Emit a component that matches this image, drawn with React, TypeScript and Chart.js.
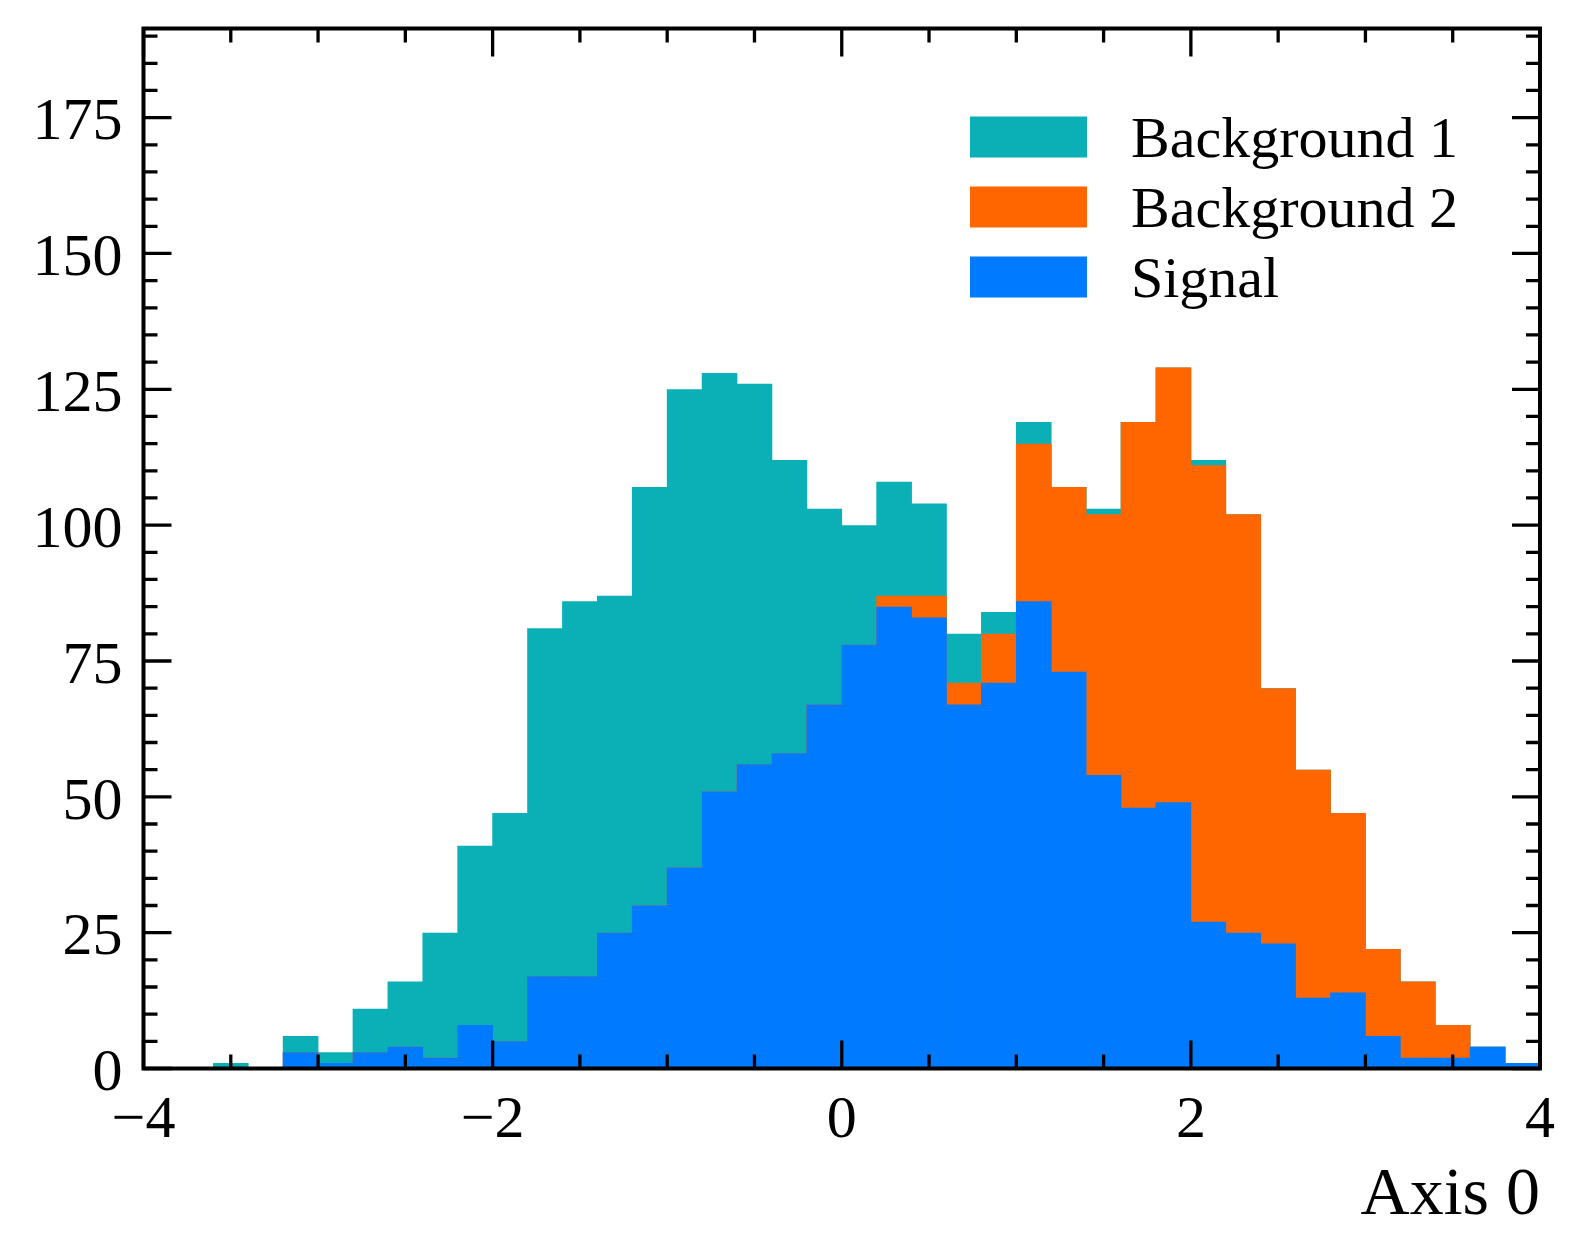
import { useEffect, useRef } from 'react'
import { Chart, registerables } from 'chart.js'

Chart.register(...registerables)

// histogram bins: 40 bins of width 0.2 between -4 and 4
const binCenters = [
  -3.9, -3.7, -3.5, -3.3, -3.1, -2.9, -2.7, -2.5, -2.3, -2.1,
  -1.9, -1.7, -1.5, -1.3, -1.1, -0.9, -0.7, -0.5, -0.3, -0.1,
  0.1, 0.3, 0.5, 0.7, 0.9, 1.1, 1.3, 1.5, 1.7, 1.9,
  2.1, 2.3, 2.5, 2.7, 2.9, 3.1, 3.3, 3.5, 3.7, 3.9,
]

const signal = [
  0, 0, 0, 0, 3, 1, 3, 4, 2, 8,
  5, 17, 17, 25, 30, 37, 51, 56, 58, 67,
  78, 85, 83, 67, 71, 86, 73, 54, 48, 49,
  27, 25, 23, 13, 14, 6, 2, 2, 4, 1,
]

const background2 = [
  0, 0, 0, 0, 0, 0, 0, 0, 0, 0,
  0, 0, 0, 0, 0, 0, 0, 0, 0, 0,
  0, 2, 4, 4, 9, 29, 34, 48, 71, 80,
  84, 77, 47, 42, 33, 16, 14, 6, 0, 0,
]

const background1 = [
  0, 0, 1, 0, 3, 2, 8, 12, 23, 33,
  42, 64, 69, 62, 77, 88, 77, 70, 54, 36,
  22, 21, 17, 9, 4, 4, 0, 1, 0, 0,
  1, 0, 0, 0, 0, 0, 0, 0, 0, 0,
]

const seriesLabels = ['Signal', 'Background 2', 'Background 1']
const seriesColors = ['#007bff', '#ff6600', '#0bafb6']

const xMajorTicks = [-4, -2, 0, 2, 4]
const xTickLabels = ['\u22124', '\u22122', '0', '2', '4']
const yMajorTicks = [0, 25, 50, 75, 100, 125, 150, 175]
const yTickLabels = ['0', '25', '50', '75', '100', '125', '150', '175']
const xTitle = 'Axis 0'

const FONT = "'Liberation Serif', 'DejaVu Serif', serif"
const W = 1584
const H = 1257

// inward ticks on all four sides, the frame, legend and axis title
const framePlugin = {
  id: 'frame',
  afterDraw(chart: Chart) {
    const { ctx, chartArea } = chart
    const { left, right, top, bottom } = chartArea
    const x = chart.scales.x
    const y = chart.scales.y
    ctx.save()
    ctx.strokeStyle = '#000'
    ctx.lineCap = 'butt'
    ctx.lineWidth = 3.3

    for (let v = x.min; v <= x.max + 1e-9; v += 0.5) {
      const px = x.getPixelForValue(v)
      const len = xMajorTicks.some((m) => Math.abs(m - v) < 1e-9) ? 28 : 14
      ctx.beginPath()
      ctx.moveTo(px, bottom)
      ctx.lineTo(px, bottom - len)
      ctx.moveTo(px, top)
      ctx.lineTo(px, top + len)
      ctx.stroke()
    }
    for (let v = 0; v <= y.max + 1e-9; v += 5) {
      const py = y.getPixelForValue(v)
      const len = yMajorTicks.includes(Math.round(v)) ? 28 : 14
      ctx.beginPath()
      ctx.moveTo(left, py)
      ctx.lineTo(left + len, py)
      ctx.moveTo(right, py)
      ctx.lineTo(right - len, py)
      ctx.stroke()
    }

    ctx.lineWidth = 4
    ctx.strokeRect(left, top, right - left, bottom - top)

    // legend, top entry is the last dataset
    const boxLeft = right - 570
    const rowTop = top + 88
    ctx.font = `58px ${FONT}`
    ctx.textAlign = 'left'
    ctx.textBaseline = 'alphabetic'
    const ds = chart.data.datasets
    for (let i = 0; i < ds.length; i++) {
      const d = ds[ds.length - 1 - i]
      const yy = rowTop + i * 70
      ctx.fillStyle = d.backgroundColor as string
      ctx.fillRect(boxLeft, yy, 117, 41)
      ctx.fillStyle = '#000'
      ctx.fillText(d.label ?? '', boxLeft + 161, yy + 40)
    }

    ctx.font = `68px ${FONT}`
    ctx.textAlign = 'right'
    ctx.fillText(xTitle, right, bottom + 145)
    ctx.restore()
  },
}

export default function App() {
  const canvasRef = useRef<HTMLCanvasElement>(null)
  const chartRef = useRef<Chart | null>(null)

  useEffect(() => {
    if (!canvasRef.current) return
    chartRef.current?.destroy()

    // cumulative heights, drawn from zero and overlapping (signal on top)
    const stack1 = signal.map((v) => v)
    const stack2 = signal.map((v, i) => v + background2[i])
    const stack3 = signal.map((v, i) => v + background2[i] + background1[i])
    const stacks = [stack1, stack2, stack3]

    chartRef.current = new Chart(canvasRef.current, {
      type: 'bar',
      data: {
        datasets: stacks.map((s, k) => ({
          label: seriesLabels[k],
          data: binCenters.map((c, i) => ({ x: c, y: s[i] })),
          backgroundColor: seriesColors[k],
          borderWidth: 0,
          grouped: false,
          categoryPercentage: 1,
          barPercentage: 1.02,
        })),
      },
      options: {
        responsive: false,
        animation: false,
        events: [],
        layout: { padding: { left: 0, top: 28.5, right: 44, bottom: 0 } },
        plugins: {
          legend: { display: false },
          tooltip: { enabled: false },
        },
        scales: {
          x: {
            type: 'linear',
            min: -4,
            max: 4,
            offset: false,
            grid: { display: false, drawTicks: false },
            border: { display: false },
            afterBuildTicks: (scale) => {
              scale.ticks = xMajorTicks.map((v) => ({ value: v }))
            },
            afterFit: (scale) => {
              scale.height = H - 1068.5
              scale.paddingLeft = 0
              scale.paddingRight = 0
            },
            ticks: {
              autoSkip: false,
              maxRotation: 0,
              minRotation: 0,
              padding: 17,
              color: '#000',
              font: { family: FONT, size: 60 },
              callback: (_v, i) => xTickLabels[i],
            },
          },
          y: {
            type: 'linear',
            min: 0,
            max: 191.4,
            grid: { display: false, drawTicks: false },
            border: { display: false },
            afterBuildTicks: (scale) => {
              scale.ticks = yMajorTicks.map((v) => ({ value: v }))
            },
            afterFit: (scale) => {
              scale.width = 143.5
              scale.paddingTop = 0
              scale.paddingBottom = 0
            },
            ticks: {
              autoSkip: false,
              padding: 21,
              labelOffset: 6,
              color: '#000',
              font: { family: FONT, size: 60 },
              callback: (_v, i) => yTickLabels[i],
            },
          },
        },
      },
      plugins: [framePlugin],
    })

    return () => {
      chartRef.current?.destroy()
    }
  }, [])

  return (
    <div style={{ position: 'fixed', left: 0, top: 0, width: W, height: H, background: '#fff' }}>
      <canvas ref={canvasRef} width={W} height={H} style={{ display: 'block' }} />
    </div>
  )
}
